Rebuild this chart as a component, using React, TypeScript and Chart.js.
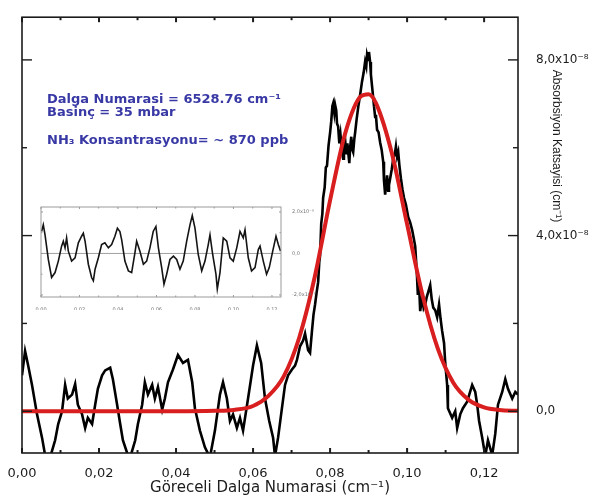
import { useEffect, useRef } from 'react';
import { Chart, registerables } from 'chart.js';

Chart.register(...registerables);

// Measured NH3 absorption line: relative wavenumber (cm⁻¹) vs. absorption coefficient (×10⁻⁸ cm⁻¹)
const measuredX = [
  0.0000, 0.0008, 0.0016, 0.0026, 0.0039, 0.0052, 0.0060, 0.0073, 0.0086, 0.0094,
  0.0104, 0.0112, 0.0119, 0.0130, 0.0138, 0.0145, 0.0156, 0.0164, 0.0171, 0.0182,
  0.0190, 0.0197, 0.0208, 0.0216, 0.0229, 0.0236, 0.0247, 0.0255, 0.0262, 0.0273,
  0.0281, 0.0294, 0.0301, 0.0312, 0.0319, 0.0327, 0.0338, 0.0345, 0.0353, 0.0364,
  0.0371, 0.0379, 0.0392, 0.0405, 0.0418, 0.0431, 0.0442, 0.0449, 0.0462, 0.0475,
  0.0488, 0.0501, 0.0514, 0.0522, 0.0532, 0.0540, 0.0548, 0.0558, 0.0566, 0.0574,
  0.0587, 0.0600, 0.0610, 0.0621, 0.0631, 0.0642, 0.0652, 0.0657, 0.0665, 0.0675,
  0.0683, 0.0691, 0.0701, 0.0709, 0.0714, 0.0722, 0.0730, 0.0735, 0.0743, 0.0748,
  0.0753, 0.0757, 0.0761, 0.0765, 0.0769, 0.0772, 0.0774, 0.0777, 0.0780, 0.0782,
  0.0786, 0.0789, 0.0792, 0.0796, 0.0800, 0.0803, 0.0806, 0.0808, 0.0811, 0.0813,
  0.0816, 0.0818, 0.0821, 0.0824, 0.0827, 0.0831, 0.0834, 0.0836, 0.0839, 0.0842,
  0.0845, 0.0847, 0.0850, 0.0852, 0.0855, 0.0858, 0.0860, 0.0863, 0.0865, 0.0869,
  0.0873, 0.0878, 0.0883, 0.0887, 0.0891, 0.0894, 0.0896, 0.0899, 0.0901, 0.0904,
  0.0906, 0.0909, 0.0912, 0.0914, 0.0917, 0.0919, 0.0922, 0.0926, 0.0930, 0.0934,
  0.0938, 0.0940, 0.0943, 0.0946, 0.0948, 0.0951, 0.0953, 0.0956, 0.0960, 0.0964,
  0.0968, 0.0971, 0.0974, 0.0977, 0.0980, 0.0984, 0.0988, 0.0992, 0.0997, 0.1003,
  0.1008, 0.1013, 0.1017, 0.1021, 0.1025, 0.1028, 0.1031, 0.1034, 0.1039, 0.1043,
  0.1047, 0.1051, 0.1055, 0.1060, 0.1064, 0.1068, 0.1073, 0.1078, 0.1083, 0.1087,
  0.1091, 0.1096, 0.1099, 0.1104, 0.1106, 0.1117, 0.1125, 0.1130, 0.1138, 0.1145,
  0.1156, 0.1169, 0.1177, 0.1182, 0.1187, 0.1195, 0.1203, 0.1210, 0.1221, 0.1229,
  0.1236, 0.1247, 0.1255, 0.1262, 0.1273, 0.1281, 0.1288,
];
const measuredY = [
  0.82, 1.37, 1.04, 0.60, -0.07, -0.60, -1.00, -1.05, -0.66, -0.29,
  0.00, 0.60, 0.29, 0.38, 0.62, 0.15, -0.07, -0.38, -0.15, -0.29,
  0.15, 0.51, 0.82, 0.93, 0.99, 0.73, 0.15, -0.29, -0.66, -0.95,
  -1.05, -0.66, -0.29, 0.15, 0.66, 0.38, 0.60, 0.29, 0.55, 0.04,
  0.29, 0.66, 0.95, 1.28, 1.10, 1.17, 0.66, 0.07, -0.44, -0.82,
  -1.05, -0.44, 0.38, 0.66, 0.29, -0.22, -0.07, -0.38, -0.15, -0.44,
  0.29, 1.04, 1.50, 1.10, 0.29, -0.22, -0.60, -1.02, -0.60, 0.07,
  0.60, 0.82, 0.95, 1.04, 1.17, 1.48, 1.61, 1.77, 1.39, 1.33,
  1.83, 2.20, 2.43, 2.70, 2.94, 3.40, 3.54, 4.27, 4.50, 4.86,
  5.10, 5.55, 5.59, 6.05, 6.34, 6.60, 6.95, 7.01, 6.80, 6.98,
  6.85, 6.55, 6.48, 6.10, 6.30, 5.90, 5.75, 6.15, 6.19, 5.85,
  6.10, 5.90, 5.65, 6.00, 6.25, 5.95, 5.90, 6.20, 6.34, 6.65,
  6.92, 7.20, 7.51, 7.70, 7.96, 7.85, 8.11, 8.00, 8.18, 7.95,
  7.67, 7.40, 7.14, 6.95, 6.70, 6.75, 6.41, 6.35, 6.12, 5.95,
  5.68, 5.25, 4.93, 5.20, 5.37, 5.02, 5.15, 5.30, 5.50, 5.75,
  5.85, 6.03, 5.80, 5.90, 5.60, 5.30, 5.05, 4.86, 4.70, 4.42,
  4.30, 4.13, 3.95, 3.76, 3.20, 2.65, 2.90, 2.28, 2.59, 2.35,
  2.43, 2.60, 2.72, 2.87, 2.55, 2.36, 2.30, 2.14, 2.43, 2.10,
  1.83, 1.55, 1.10, 0.60, 0.07, -0.15, 0.00, -0.38, -0.07, 0.07,
  0.22, 0.60, 0.44, 0.15, -0.22, -0.60, -1.02, -0.66, -1.00, -0.51,
  0.15, 0.44, 0.73, 0.51, 0.29, 0.44, 0.38,
];

// Gaussian line-shape fit (×10⁻⁸ cm⁻¹)
const fitX = [
  0, 0.02, 0.04, 0.05, 0.055, 0.06, 0.064, 0.068, 0.072, 0.076, 0.08, 0.084,
  0.088, 0.09, 0.092, 0.096, 0.1, 0.104, 0.108, 0.112, 0.116, 0.12, 0.124, 0.1288,
];
const fitY = [
  0, 0, 0, 0.01, 0.03, 0.12, 0.35, 0.8, 1.68, 3.05, 4.8, 6.35,
  7.17, 7.22, 7.0, 5.89, 4.26, 2.65, 1.42, 0.65, 0.26, 0.09, 0.03, 0.01,
];

// Fit residual (×10⁻⁸ cm⁻¹)
const residualX = [
  0.0003, 0.0012, 0.0021, 0.0038, 0.0055, 0.0073, 0.0090, 0.0107, 0.0116, 0.0125,
  0.0133, 0.0142, 0.0159, 0.0177, 0.0194, 0.0211, 0.0220, 0.0229, 0.0246, 0.0263,
  0.0272, 0.0281, 0.0298, 0.0315, 0.0332, 0.0350, 0.0367, 0.0384, 0.0397, 0.0410,
  0.0419, 0.0436, 0.0454, 0.0471, 0.0488, 0.0497, 0.0514, 0.0532, 0.0549, 0.0566,
  0.0583, 0.0597, 0.0610, 0.0627, 0.0639, 0.0653, 0.0670, 0.0688, 0.0705, 0.0722,
  0.0739, 0.0757, 0.0774, 0.0786, 0.0800, 0.0817, 0.0835, 0.0852, 0.0869, 0.0878,
  0.0892, 0.0909, 0.0916, 0.0930, 0.0947, 0.0965, 0.0982, 0.0999, 0.1017, 0.1034,
  0.1051, 0.1060, 0.1077, 0.1094, 0.1112, 0.1129, 0.1138, 0.1155, 0.1172, 0.1186,
  0.1204, 0.1221, 0.1233, 0.1245,
];
const residualY = [
  1.06, 1.38, 0.90, -0.29, -1.16, -0.92, -0.37, 0.35, 0.59, 0.27,
  0.75, 0.11, -0.37, -0.21, 0.51, 0.83, 0.98, 0.59, -0.52, -1.16,
  -1.32, -0.76, -0.21, 0.43, 0.51, 0.27, 0.43, 0.83, 1.22, 1.06,
  0.67, -0.37, -0.84, -0.92, 0.03, 0.59, 0.11, -0.52, -0.37, 0.27,
  1.06, 1.30, 0.27, -0.68, -1.48, -1.00, -0.29, -0.13, -0.29, -0.76,
  -0.37, 0.59, 1.38, 1.83, 1.22, -0.05, -0.84, -0.37, 0.43, 0.90,
  -0.05, -1.00, -1.71, -0.92, 0.75, 0.59, -0.21, -0.37, 0.27, 1.06,
  0.75, 1.14, -0.21, -0.84, -0.68, 0.19, 0.35, -0.37, -1.00, -0.68,
  0.11, 0.83, 0.43, 0.11,
];

const xTicks = [0, 0.02, 0.04, 0.06, 0.08, 0.1, 0.12];
const xMinorTicks = [0.01, 0.03, 0.05, 0.07, 0.09, 0.11];
const yTicks = [0, 4, 8];
const yMinorTicks = [2, 6];
const residualYTicks = [-2, 0, 2];
const residualYMinorTicks = [-1, 1];

const infoLines = [
  'Dalga Numarasi = 6528.76 cm⁻¹',
  'Basinç = 35 mbar',
  'NH₃ Konsantrasyonu= ~ 870 ppb',
];
const xTitle = 'Göreceli Dalga Numarasi (cm⁻¹)';
const yTitle = 'Absorbsiyon Katsayisi (cm⁻¹)';

const FONT = '"DejaVu Sans", "Liberation Sans", sans-serif';
const INK = '#1c1c1c';
const FIT_RED = '#d81e1e';
const INFO_BLUE = '#3939a6';

const decimal = (v: number, digits: number) => v.toFixed(digits).replace('.', ',');
const powerLabel = (v: number) => (v === 0 ? '0,0' : `${decimal(v, 1)}x10⁻⁸`);
const toPoints = (xs: number[], ys: number[]) => xs.map((x, i) => ({ x, y: ys[i] }));

type TickSet = { major: number[]; minor: number[]; majorLen: number; minorLen: number; width: number };
type FrameSpec = { color: string; width: number; x: TickSet; y: TickSet; zeroLine?: string };

// Box frame with inward-pointing ticks on all four sides, placed via the chart's scales
const framePlugin = (id: string, spec: FrameSpec) => ({
  id,
  beforeDatasetsDraw(chart: any) {
    if (!spec.zeroLine) return;
    const { ctx, chartArea: a } = chart;
    const p = chart.scales.y.getPixelForValue(0);
    ctx.save();
    ctx.strokeStyle = spec.zeroLine;
    ctx.lineWidth = 1;
    ctx.beginPath();
    ctx.moveTo(a.left, p);
    ctx.lineTo(a.right, p);
    ctx.stroke();
    ctx.restore();
  },
  afterDatasetsDraw(chart: any) {
    const { ctx, chartArea: a } = chart;
    const xs = chart.scales.x;
    const ys = chart.scales.y;
    const seg = (x1: number, y1: number, x2: number, y2: number) => {
      ctx.beginPath();
      ctx.moveTo(x1, y1);
      ctx.lineTo(x2, y2);
      ctx.stroke();
    };
    ctx.save();
    ctx.strokeStyle = spec.color;
    ctx.lineWidth = spec.x.width;
    const xMark = (v: number, len: number) => {
      const p = xs.getPixelForValue(v);
      seg(p, a.bottom, p, a.bottom - len);
      seg(p, a.top, p, a.top + len);
    };
    spec.x.major.forEach((v) => xMark(v, spec.x.majorLen));
    spec.x.minor.forEach((v) => xMark(v, spec.x.minorLen));
    ctx.lineWidth = spec.y.width;
    const yMark = (v: number, len: number) => {
      const p = ys.getPixelForValue(v);
      seg(a.left, p, a.left + len, p);
      seg(a.right, p, a.right - len, p);
    };
    spec.y.major.forEach((v) => yMark(v, spec.y.majorLen));
    spec.y.minor.forEach((v) => yMark(v, spec.y.minorLen));
    ctx.lineWidth = spec.width;
    ctx.strokeRect(a.left, a.top, a.right - a.left, a.bottom - a.top);
    ctx.restore();
  },
});

// Measurement conditions and the right-hand axis title
const textPlugin = {
  id: 'spectrumText',
  afterDraw(chart: any) {
    const { ctx, chartArea: a } = chart;
    ctx.save();
    ctx.fillStyle = INFO_BLUE;
    ctx.font = `bold 13px ${FONT}`;
    ctx.textAlign = 'left';
    ctx.textBaseline = 'alphabetic';
    const baselines = [103, 116, 144];
    infoLines.forEach((t, i) => ctx.fillText(t, a.left + 25, baselines[i]));

    ctx.fillStyle = INK;
    ctx.font = `12px "Liberation Sans", Arial, sans-serif`;
    ctx.translate(a.right + 38, 146);
    ctx.rotate(Math.PI / 2);
    ctx.textAlign = 'center';
    ctx.textBaseline = 'middle';
    ctx.fillText(yTitle, 0, 0);
    ctx.restore();
  },
};

export default function App() {
  const mainRef = useRef<HTMLCanvasElement>(null);
  const insetRef = useRef<HTMLCanvasElement>(null);

  useEffect(() => {
    if (!mainRef.current || !insetRef.current) return;

    const main = new Chart(mainRef.current, {
      type: 'line',
      data: {
        datasets: [
          {
            label: 'Gauss fit',
            data: toPoints(fitX, fitY),
            borderColor: FIT_RED,
            borderWidth: 4,
            pointRadius: 0,
            cubicInterpolationMode: 'monotone',
            order: 0,
          },
          {
            label: 'Ölçüm',
            data: toPoints(measuredX, measuredY),
            borderColor: '#000000',
            borderWidth: 2.6,
            pointRadius: 0,
            tension: 0,
            order: 1,
          },
        ],
      },
      options: {
        animation: false,
        responsive: false,
        layout: { padding: { left: 22, top: 4, right: 0, bottom: 0 } },
        plugins: { legend: { display: false }, tooltip: { enabled: false } },
        scales: {
          x: {
            type: 'linear',
            position: 'bottom',
            min: 0,
            max: 0.1288,
            afterBuildTicks: (s: any) => {
              s.ticks = xTicks.map((value) => ({ value }));
            },
            afterFit: (s: any) => {
              s.height = 48;
            },
            grid: { display: false },
            border: { display: false },
            ticks: {
              autoSkip: false,
              maxRotation: 0,
              padding: 5,
              color: INK,
              font: { family: FONT, size: 13 },
              callback: (v: any) => decimal(Number(v), 2),
            },
            title: {
              display: true,
              text: xTitle,
              color: INK,
              font: { family: FONT, size: 15 },
              padding: { top: 0, bottom: 4 },
            },
          },
          y: {
            type: 'linear',
            position: 'right',
            min: -0.95,
            max: 8.972,
            afterBuildTicks: (s: any) => {
              s.ticks = yTicks.map((value) => ({ value }));
            },
            afterFit: (s: any) => {
              s.width = 74;
            },
            grid: { display: false },
            border: { display: false },
            ticks: {
              padding: 10,
              color: INK,
              font: { family: FONT, size: 12 },
              callback: (v: any) => powerLabel(Number(v)),
            },
          },
        },
      },
      plugins: [
        framePlugin('mainFrame', {
          color: INK,
          width: 1.6,
          x: { major: xTicks, minor: xMinorTicks, majorLen: 5, minorLen: 3, width: 2 },
          y: { major: yTicks, minor: yMinorTicks, majorLen: 10, minorLen: 5, width: 1.4 },
        }),
        textPlugin,
      ],
    });

    const inset = new Chart(insetRef.current, {
      type: 'line',
      data: {
        datasets: [
          {
            label: 'Artık',
            data: toPoints(residualX, residualY),
            borderColor: '#141414',
            borderWidth: 1.6,
            pointRadius: 0,
            tension: 0,
          },
        ],
      },
      options: {
        animation: false,
        responsive: false,
        layout: { padding: { left: 11, top: 7, right: 0, bottom: 0 } },
        plugins: { legend: { display: false }, tooltip: { enabled: false } },
        scales: {
          x: {
            type: 'linear',
            min: 0,
            max: 0.1247,
            afterBuildTicks: (s: any) => {
              s.ticks = xTicks.map((value) => ({ value }));
            },
            afterFit: (s: any) => {
              s.height = 13;
            },
            grid: { display: false },
            border: { display: false },
            ticks: {
              autoSkip: false,
              maxRotation: 0,
              padding: 2,
              color: '#777',
              font: { family: FONT, size: 5 },
              callback: (v: any) => decimal(Number(v), 2),
            },
          },
          y: {
            type: 'linear',
            position: 'right',
            min: -2.1,
            max: 2.24,
            afterBuildTicks: (s: any) => {
              s.ticks = residualYTicks.map((value) => ({ value }));
            },
            afterFit: (s: any) => {
              s.width = 49;
            },
            grid: { display: false },
            border: { display: false },
            ticks: {
              padding: 3,
              color: '#777',
              font: { family: FONT, size: 5 },
              callback: (v: any) => powerLabel(Number(v)),
            },
          },
        },
      },
      plugins: [
        framePlugin('insetFrame', {
          color: '#9a9a9a',
          width: 1,
          zeroLine: '#a0a0a0',
          x: { major: xTicks, minor: xMinorTicks, majorLen: 2, minorLen: 1.5, width: 1 },
          y: { major: residualYTicks, minor: residualYMinorTicks, majorLen: 2, minorLen: 1.5, width: 1 },
        }),
      ],
    });

    return () => {
      main.destroy();
      inset.destroy();
    };
  }, []);

  return (
    <div style={{ position: 'fixed', left: 0, top: 0, width: 592, height: 501, background: '#fff' }}>
      <canvas ref={mainRef} width={592} height={501} style={{ position: 'absolute', left: 0, top: 0 }} />
      <canvas ref={insetRef} width={300} height={110} style={{ position: 'absolute', left: 30, top: 200 }} />
    </div>
  );
}
